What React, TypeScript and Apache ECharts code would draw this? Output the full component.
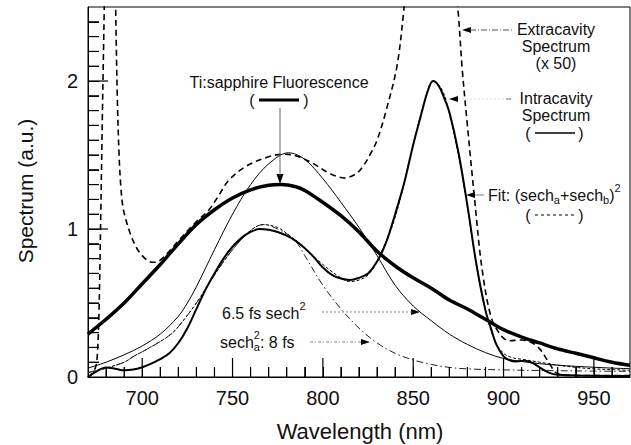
import React, { useEffect, useRef } from "react";
import * as echarts from "echarts";

// ---------- data ----------
const xMajorTicks = [700, 750, 800, 850, 900, 950];
const xMinorTicks = [680, 690, 710, 720, 730, 740, 760, 770, 780, 790, 810, 820, 830, 840, 860, 870, 880, 890, 910, 920, 930, 940, 960];
const yLabelValues = [0, 1, 2];
const yMajorTicks = [1, 2];
const yMinorTicks = [0.1, 0.2, 0.3, 0.4, 0.5, 0.6, 0.7, 0.8, 0.9, 1.1, 1.2, 1.3, 1.4, 1.5, 1.6, 1.7, 1.8, 1.9, 2.1, 2.2, 2.3, 2.4];

// Ti:sapphire fluorescence (thick solid)
const fluorescence: [number, number][] = [
  [670, 0.29], [680, 0.39], [690, 0.5], [700, 0.63], [710, 0.76], [720, 0.9], [730, 1.03], [740, 1.13],
  [750, 1.21], [760, 1.265], [770, 1.295], [777, 1.3], [785, 1.285], [790, 1.26], [800, 1.18], [810, 1.09],
  [820, 0.98], [830, 0.85], [840, 0.75], [850, 0.67], [860, 0.6], [870, 0.52], [880, 0.46], [890, 0.39],
  [900, 0.32], [910, 0.27], [920, 0.23], [930, 0.19], [940, 0.16], [950, 0.13], [960, 0.1], [970, 0.08],
];

// 6.5 fs sech^2 (thin solid)
const sech65fs: [number, number][] = [
  [670, 0.06], [680, 0.1], [690, 0.15], [700, 0.21], [710, 0.29], [720, 0.41], [725, 0.5], [730, 0.61],
  [740, 0.86], [750, 1.1], [760, 1.3], [770, 1.44], [781, 1.515], [790, 1.47], [800, 1.34], [810, 1.18],
  [820, 1.01], [830, 0.82], [840, 0.62], [850, 0.48], [860, 0.38], [870, 0.29], [880, 0.22], [890, 0.165],
  [900, 0.125], [910, 0.105], [920, 0.09], [930, 0.08], [940, 0.072], [950, 0.066], [960, 0.06], [970, 0.056],
];

// Intracavity spectrum (medium solid)
const intracavity: [number, number][] = [
  [670, 0.0], [675, 0.04], [680, 0.064], [685, 0.056], [690, 0.045], [695, 0.05], [700, 0.066], [705, 0.09],
  [710, 0.12], [715, 0.16], [720, 0.23], [725, 0.33], [730, 0.46], [735, 0.59], [740, 0.7], [745, 0.8],
  [750, 0.88], [755, 0.94], [760, 0.98], [765, 1.0], [770, 0.995], [775, 0.98], [780, 0.955], [785, 0.92],
  [790, 0.87], [795, 0.81], [800, 0.74], [805, 0.69], [810, 0.665], [815, 0.655], [820, 0.67], [825, 0.7],
  [830, 0.78], [835, 0.91], [840, 1.1], [845, 1.31], [850, 1.57], [855, 1.8], [858, 1.93], [861, 2.0],
  [864, 1.97], [867, 1.89], [870, 1.79], [875, 1.52], [880, 1.16], [885, 0.76], [890, 0.45], [893, 0.33],
  [896, 0.22], [900, 0.14], [903, 0.115], [907, 0.105], [912, 0.11], [916, 0.095], [920, 0.065], [925, 0.03],
  [930, 0.015], [950, 0.008], [970, 0.006],
];

// Fit: (sech_a + sech_b)^2 (thin dashed)
const fitSum: [number, number][] = [
  [670, 0.03], [680, 0.06], [690, 0.1], [696, 0.145], [700, 0.17], [710, 0.24], [716, 0.29], [720, 0.34],
  [730, 0.5], [740, 0.69], [750, 0.86], [760, 0.99], [767, 1.03], [775, 1.01], [780, 0.97], [790, 0.87],
  [800, 0.76], [810, 0.67], [815, 0.645], [820, 0.655], [825, 0.69], [830, 0.78], [840, 1.08], [850, 1.57],
  [856, 1.85], [861, 2.0], [866, 1.94], [870, 1.78], [875, 1.5], [880, 1.15], [885, 0.76], [890, 0.45],
  [895, 0.25], [900, 0.16], [905, 0.13], [910, 0.12], [920, 0.1], [930, 0.08], [940, 0.065], [950, 0.055],
  [960, 0.05], [970, 0.045],
];

// sech_a^2 : 8 fs (dash-dot)
const sechA8fs: [number, number][] = [
  [670, 0.03], [680, 0.06], [690, 0.1], [696, 0.145], [700, 0.17], [710, 0.24], [716, 0.29], [720, 0.34],
  [730, 0.5], [740, 0.69], [750, 0.86], [760, 0.99], [767, 1.03], [775, 1.0], [784, 0.93], [790, 0.82],
  [800, 0.62], [810, 0.46], [820, 0.33], [830, 0.23], [840, 0.16], [850, 0.115], [860, 0.085], [870, 0.065],
  [880, 0.055], [900, 0.048], [920, 0.044], [950, 0.04], [970, 0.038],
];

// Extracavity spectrum (x 50) (dashed, goes off scale)
const extracavity: [number, number][] = [
  [670, 0.0], [672, 0.02], [674, 0.06], [675, 0.12], [676, 0.4], [677, 1.05], [678, 1.8], [679, 2.5],
  [680, 3.3], [682, 4.0], [684, 3.4], [685.3, 2.5], [686.2, 1.9], [687.2, 1.5], [688.2, 1.28], [689.3, 1.15],
  [690.8, 1.07], [692.3, 1.01], [694.3, 0.94], [697, 0.87], [700, 0.82], [704, 0.78], [707, 0.775], [710, 0.79],
  [715, 0.85], [720, 0.92], [730, 1.05], [737, 1.13], [742, 1.22], [748, 1.33], [757, 1.42], [768, 1.48],
  [778, 1.505], [785, 1.495], [795, 1.44], [803, 1.38], [812, 1.345], [818, 1.37], [822, 1.42], [826, 1.5],
  [830, 1.6], [835, 1.8], [841, 2.1], [845, 2.5], [850, 3.1], [860, 3.6], [870, 3.1], [875, 2.45],
  [877, 2.1], [880, 1.7], [884, 1.2], [888, 0.74], [893, 0.41], [898, 0.29], [903, 0.245], [910, 0.25],
  [916, 0.23], [920, 0.19], [925, 0.1], [929, 0.03], [935, 0.01], [970, 0.01],
];

const FONT = '"Liberation Sans", Arial, Helvetica, sans-serif';
const X_MIN = 670;
const X_MAX = 970;
const Y_MIN = 0;
const Y_MAX = 2.5;
const CHART_W = 631;
const CHART_H = 445;
const GRID = { left: 88, right: 1, top: 7, bottom: 68 };
const X_MAJOR_LEN = 19;
const X_MINOR_LEN = 10;
const Y_MAJOR_LEN = 20;
const Y_MINOR_LEN = 11;

let measureCtx: CanvasRenderingContext2D | null = null;
function textWidth(t: string, size: number): number {
  if (!measureCtx) measureCtx = document.createElement("canvas").getContext("2d");
  if (!measureCtx) return t.length * size * 0.55;
  measureCtx.font = `${size}px ${FONT}`;
  return measureCtx.measureText(t).width;
}

type Part = { t: string; size?: number; dy?: number; stackWith?: Part };

function textRun(x: number, y: number, parts: Part[]) {
  const widthOf = (p: Part) => {
    const w = textWidth(p.t, p.size ?? 16);
    return p.stackWith ? Math.max(w, textWidth(p.stackWith.t, p.stackWith.size ?? 16)) : w;
  };
  let cx = x;
  const els: any[] = [];
  const mk = (p: Part, px: number) => ({
    type: "text",
    x: px,
    y: y + (p.dy ?? 0),
    silent: true,
    style: { text: p.t, fontSize: p.size ?? 16, fontFamily: FONT, fill: "#111", align: "left", verticalAlign: "middle" },
  });
  for (const p of parts) {
    els.push(mk(p, cx));
    if (p.stackWith) els.push(mk(p.stackWith, cx));
    cx += widthOf(p);
  }
  return els;
}

function centered(x: number, y: number, t: string, size = 16) {
  return {
    type: "text",
    x,
    y,
    silent: true,
    style: { text: t, fontSize: size, fontFamily: FONT, fill: "#111", align: "center", verticalAlign: "middle" },
  };
}

function seg(x1: number, y1: number, x2: number, y2: number, stroke = "#000", lineWidth = 1, lineDash?: number[]) {
  const style: any = { stroke, lineWidth };
  if (lineDash) style.lineDash = lineDash;
  return { type: "line", silent: true, z: 20, shape: { x1, y1, x2, y2 }, style };
}

function arrowHead(tipX: number, tipY: number, dir: "left" | "right" | "down", len = 9, half = 3) {
  let pts: number[][];
  if (dir === "left") pts = [[tipX, tipY], [tipX + len, tipY - half], [tipX + len, tipY + half]];
  else if (dir === "right") pts = [[tipX, tipY], [tipX - len, tipY - half], [tipX - len, tipY + half]];
  else pts = [[tipX, tipY], [tipX - half, tipY - len], [tipX + half, tipY - len]];
  return { type: "polygon", silent: true, shape: { points: pts }, style: { fill: "#000" } };
}

function lineSeries(name: string, data: [number, number][], width: number, type: any, z: number, color = "#000") {
  return {
    name,
    type: "line",
    data,
    showSymbol: false,
    symbol: "none",
    smooth: 0.35,
    clip: true,
    z,
    lineStyle: { color, width, type, cap: "butt", join: "round" },
  };
}

// tick marks: tiny two-point line series (lengths converted from px to data units)
const X_PER_PX = (X_MAX - X_MIN) / (CHART_W - GRID.left - GRID.right);
const Y_PER_PX = (Y_MAX - Y_MIN) / (CHART_H - GRID.top - GRID.bottom);

function tickSeries(v: number, lenPx: number, axis: "x" | "y") {
  const data =
    axis === "x"
      ? [[v, Y_MIN], [v, Y_MIN + lenPx * Y_PER_PX]]
      : [[X_MIN, v], [X_MIN + lenPx * X_PER_PX, v]];
  return {
    type: "line",
    data,
    showSymbol: false,
    symbol: "none",
    silent: true,
    clip: false,
    smooth: false,
    z: 8,
    lineStyle: { color: "#000", width: 1.2, type: "solid", cap: "butt" },
  };
}

export default function App() {
  const ref = useRef<HTMLDivElement>(null);

  useEffect(() => {
    if (!ref.current) return;
    const chart = echarts.init(ref.current, undefined, { renderer: "svg" });

    const graphics: any[] = [
      // axis names
      centered(360, 431, "Wavelength (nm)", 22),
      {
        type: "text",
        x: 25,
        y: 191,
        rotation: Math.PI / 2,
        silent: true,
        style: { text: "Spectrum (a.u.)", fontSize: 21, fontFamily: FONT, fill: "#111", align: "center", verticalAlign: "middle" },
      },
      // Ti:sapphire fluorescence
      centered(279, 82, "Ti:sapphire Fluorescence"),
      centered(252, 100, "("),
      centered(306, 100, ")"),
      seg(259, 100, 299, 100, "#000", 3),
      seg(280, 108, 280, 176, "#666", 1),
      arrowHead(280, 184, "down", 10, 3.5),
      // Extracavity
      centered(556, 29, "Extracavity"),
      centered(556, 46, "Spectrum"),
      centered(556, 63, "(x 50)"),
      seg(470, 30, 512, 30, "#555", 1, [6, 2, 1, 2]),
      arrowHead(462, 30, "left"),
      // Intracavity
      centered(556, 98, "Intracavity"),
      centered(556, 115, "Spectrum"),
      centered(528, 133, "("),
      centered(581, 133, ")"),
      seg(535, 133, 575, 133, "#000", 1.5),
      seg(458, 99, 512, 99, "#ddd", 1, [2, 2]),
      seg(506, 99, 511, 99, "#777", 1),
      arrowHead(449, 99, "left"),
      // Fit
      ...textRun(488, 195, [
        { t: "Fit: (sech" },
        { t: "a", size: 11, dy: 5 },
        { t: "+sech" },
        { t: "b", size: 11, dy: 5 },
        { t: ")" },
        { t: "2", size: 11, dy: -7 },
      ]),
      centered(528, 215, "("),
      centered(581, 215, ")"),
      seg(535, 215, 575, 215, "#000", 1, [3, 3]),
      seg(475, 195, 484, 195, "#777", 1),
      arrowHead(466, 195, "left"),
      // 6.5 fs sech^2
      ...textRun(222, 313, [{ t: "6.5 fs sech" }, { t: "2", size: 11, dy: -7 }]),
      seg(322, 312, 412, 312, "#888", 1, [2, 2]),
      arrowHead(420, 312, "right"),
      // sech_a^2 : 8 fs
      ...textRun(220, 342, [
        { t: "sech" },
        { t: "a", size: 11, dy: 5, stackWith: { t: "2", size: 11, dy: -7 } },
        { t: ": 8 fs" },
      ]),
      seg(310, 342, 362, 342, "#888", 1, [3, 2, 1, 2]),
      arrowHead(370, 342, "right"),
    ];

    const ticks = [
      ...xMajorTicks.map((v) => tickSeries(v, X_MAJOR_LEN, "x")),
      ...xMinorTicks.map((v) => tickSeries(v, X_MINOR_LEN, "x")),
      ...yMajorTicks.map((v) => tickSeries(v, Y_MAJOR_LEN, "y")),
      ...yMinorTicks.map((v) => tickSeries(v, Y_MINOR_LEN, "y")),
    ];

    chart.setOption({
      animation: false,
      backgroundColor: "#fff",
      textStyle: { fontFamily: FONT },
      grid: { ...GRID, show: true, borderColor: "#000", borderWidth: 1, containLabel: false },
      xAxis: {
        type: "value",
        min: X_MIN,
        max: X_MAX,
        axisLine: { show: true, onZero: false, lineStyle: { color: "#000", width: 1 } },
        splitLine: { show: false },
        axisTick: { show: true, inside: true, length: X_MINOR_LEN, customValues: [...xMajorTicks, ...xMinorTicks], lineStyle: { color: "#000", width: 1 } },
        axisLabel: { customValues: xMajorTicks, fontSize: 20, color: "#111", fontFamily: FONT, margin: 11 },
      },
      yAxis: {
        type: "value",
        min: Y_MIN,
        max: Y_MAX,
        axisLine: { show: true, onZero: false, lineStyle: { color: "#000", width: 1 } },
        splitLine: { show: false },
        axisTick: { show: true, inside: true, length: Y_MINOR_LEN, customValues: [...yMajorTicks, ...yMinorTicks], lineStyle: { color: "#000", width: 1 } },
        axisLabel: { customValues: yLabelValues, fontSize: 20, color: "#111", fontFamily: FONT, margin: 10 },
      },
      series: [
        lineSeries("Extracavity Spectrum (x 50)", extracavity, 1.6, [6, 4], 2),
        lineSeries("6.5 fs sech2", sech65fs, 1, "solid", 3),
        lineSeries("Fit", fitSum, 1, [3, 2], 3),
        lineSeries("secha2: 8 fs", sechA8fs, 1, [7, 3, 1.5, 3], 3, "#222"),
        lineSeries("Intracavity Spectrum", intracavity, 2, "solid", 4),
        lineSeries("Ti:sapphire Fluorescence", fluorescence, 3.5, "solid", 5),
        ...ticks,
      ],
      graphic: graphics,
    });

    return () => chart.dispose();
  }, []);

  return <div ref={ref} style={{ position: "fixed", left: 0, top: 0, width: CHART_W, height: CHART_H, background: "#fff" }} />;
}
